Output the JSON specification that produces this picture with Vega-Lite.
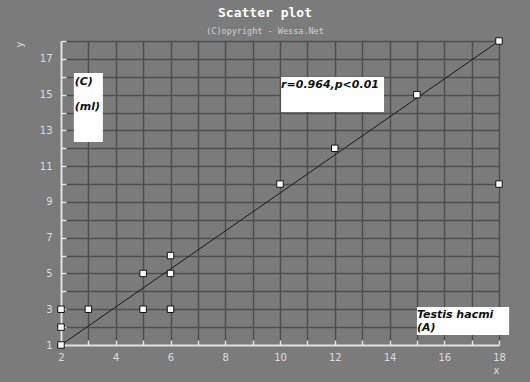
{
  "$schema": "https://vega.github.io/schema/vega-lite/v6.json",
  "width": 438,
  "height": 304,
  "autosize": {"type": "none"},
  "padding": {"left": 61, "top": 41, "right": 31, "bottom": 37},
  "background": "#7b7b7b",
  "title": {
    "text": "Scatter plot",
    "subtitle": "(C)opyright - Wessa.Net",
    "anchor": "middle",
    "frame": "group",
    "dx": -15,
    "offset": 0,
    "font": "DejaVu Sans Mono",
    "fontSize": 13,
    "fontWeight": "bold",
    "color": "#ffffff",
    "subtitleFont": "DejaVu Sans Mono",
    "subtitleFontSize": 8.5,
    "subtitleColor": "#cfcfcf",
    "subtitlePadding": 7
  },
  "config": {
    "view": {"stroke": null, "fill": "#7b7b7b"},
    "axis": {
      "gridColor": "#4f4f4f",
      "gridWidth": 1.5,
      "gridOpacity": 1,
      "domainColor": "#e6e6e6",
      "domainWidth": 2,
      "tickColor": "#e6e6e6",
      "tickWidth": 1.5,
      "tickSize": -5,
      "labelColor": "#dddddd",
      "labelFont": "DejaVu Sans",
      "labelFontSize": 10,
      "labelFlush": false,
      "labelOverlap": false,
      "labelBound": false,
      "titleColor": "#dddddd",
      "titleFont": "DejaVu Sans",
      "titleFontSize": 10,
      "titleFontWeight": "normal"
    }
  },
  "datasets": {
    "pts": [
      {"x": 2, "y": 1}, {"x": 2, "y": 2}, {"x": 2, "y": 3}, {"x": 3, "y": 3},
      {"x": 5, "y": 3}, {"x": 6, "y": 3}, {"x": 5, "y": 5}, {"x": 6, "y": 5},
      {"x": 6, "y": 6}, {"x": 10, "y": 10}, {"x": 12, "y": 12}, {"x": 15, "y": 15},
      {"x": 18, "y": 18}, {"x": 18, "y": 10}
    ],
    "fit": [{"x": 2, "y": 1}, {"x": 18, "y": 18}],
    "boxes": [
      {"x1": 2.47, "x2": 3.53, "y1": 12.35, "y2": 16.21},
      {"x1": 10.04, "x2": 13.8, "y1": 14.03, "y2": 15.99},
      {"x1": 15.0, "x2": 18.37, "y1": 1.56, "y2": 3.13}
    ],
    "notes": [
      {"x": 2.5, "y": 15.71, "t": "(C)"},
      {"x": 2.5, "y": 14.31, "t": "(ml)"},
      {"x": 10.04, "y": 15.54, "t": "r=0.964,p<0.01"},
      {"x": 15.0, "y": 2.68, "t": "Testis hacmi"},
      {"x": 15.0, "y": 1.95, "t": "(A)"}
    ]
  },
  "layer": [
    {
      "data": {"name": "pts"},
      "mark": {"type": "point", "opacity": 0},
      "encoding": {
        "x": {"field": "x", "type": "quantitative", "scale": {"domain": [2, 18], "nice": false, "zero": false},
          "axis": {"values": [2,3,4,5,6,7,8,9,10,11,12,13,14,15,16,17,18], "tickCount": 40, "labelExpr": "datum.value % 2 == 0 ? '' + datum.value : ''", "title": "x", "titleAnchor": "end", "titlePadding": 3, "labelPadding": 12}},
        "y": {"field": "y", "type": "quantitative", "scale": {"domain": [1, 18], "nice": false, "zero": false},
          "axis": {"values": [1,2,3,4,5,6,7,8,9,10,11,12,13,14,15,16,17,18], "tickCount": 40, "labelExpr": "datum.value % 2 == 1 ? '' + datum.value : ''", "title": "y", "titleAnchor": "end", "titlePadding": 15, "labelPadding": 14}}
      }
    },
    {
      "data": {"name": "fit"},
      "mark": {"type": "line", "color": "#1a1a1a", "strokeWidth": 1},
      "encoding": {
        "x": {"field": "x", "type": "quantitative"},
        "y": {"field": "y", "type": "quantitative"}
      }
    },
    {
      "data": {"name": "boxes"},
      "mark": {"type": "rect", "fill": "#ffffff", "clip": false},
      "encoding": {
        "x": {"field": "x1", "type": "quantitative"},
        "x2": {"field": "x2"},
        "y": {"field": "y1", "type": "quantitative"},
        "y2": {"field": "y2"}
      }
    },
    {
      "data": {"name": "notes"},
      "mark": {"type": "text", "align": "left", "baseline": "middle", "font": "DejaVu Sans", "fontSize": 11, "fontStyle": "italic", "fontWeight": "bold", "color": "#111111"},
      "encoding": {
        "x": {"field": "x", "type": "quantitative"},
        "y": {"field": "y", "type": "quantitative"},
        "text": {"field": "t"}
      }
    },
    {
      "data": {"name": "pts"},
      "mark": {"type": "square", "filled": true, "fill": "#ffffff", "stroke": "#111111", "strokeWidth": 1, "size": 42, "opacity": 1},
      "encoding": {
        "x": {"field": "x", "type": "quantitative"},
        "y": {"field": "y", "type": "quantitative"}
      }
    }
  ]
}
